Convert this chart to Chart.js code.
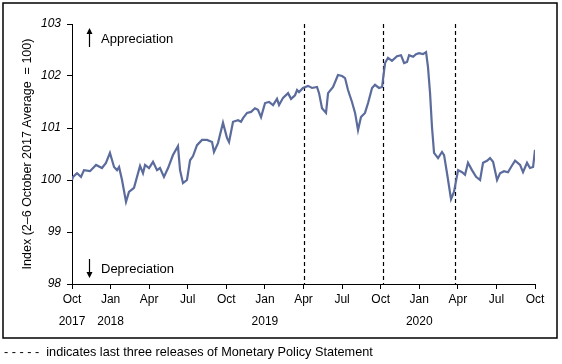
<!DOCTYPE html>
<html>
<head>
<meta charset="utf-8">
<script src="https://cdn.jsdelivr.net/npm/chart.js@4/dist/chart.umd.min.js"></script>
<style>
  body { margin: 0; background: #fff; }
  canvas { display: block; }
</style>
</head>
<body>
<canvas id="twi_chart" width="562" height="364"></canvas>
<script>
// months since early October 2017 (weekly observations)
var months = [0, 0.08, 0.39, 0.70, 0.93, 1.40, 1.87, 2.33, 2.64, 2.95,
  3.27, 3.50, 3.66, 3.89, 4.20, 4.43, 4.82, 5.29, 5.52, 5.68,
  5.99, 6.30, 6.61, 6.84, 7.15, 7.47, 7.85, 8.24, 8.40, 8.63,
  8.94, 9.18, 9.41, 9.72, 10.11, 10.50, 10.89, 11.04, 11.35, 11.74,
  12.05, 12.21, 12.52, 12.91, 13.14, 13.30, 13.61, 13.92, 14.23, 14.46,
  14.70, 15.01, 15.32, 15.63, 15.94, 16.10, 16.41, 16.80, 17.03, 17.34,
  17.50, 17.65, 17.96, 18.35, 18.66, 19.05, 19.21, 19.44, 19.75, 19.91,
  20.30, 20.68, 21.00, 21.23, 21.46, 21.77, 22.01, 22.24, 22.47, 22.78,
  23.02, 23.33, 23.56, 23.87, 24.11, 24.34, 24.57, 24.88, 25.27, 25.58,
  25.82, 26.05, 26.21, 26.52, 26.75, 26.98, 27.29, 27.53, 27.68, 27.84,
  27.99, 28.15, 28.46, 28.77, 28.93, 29.16, 29.47, 29.70, 30.02, 30.33,
  30.56, 30.79, 31.10, 31.42, 31.73, 31.96, 32.27, 32.50, 32.74, 33.05,
  33.28, 33.59, 33.90, 34.14, 34.45, 34.84, 35.07, 35.38, 35.61, 35.85,
  36.00];

var index = [100.00, 100.06, 100.13, 100.06, 100.19, 100.17, 100.29, 100.23, 100.33, 100.52,
  100.25, 100.19, 100.25, 100.00, 99.58, 99.77, 99.85, 100.27, 100.13, 100.29,
  100.23, 100.35, 100.19, 100.23, 100.06, 100.23, 100.48, 100.65, 100.19, 99.94,
  100.00, 100.38, 100.46, 100.67, 100.77, 100.77, 100.73, 100.54, 100.71, 101.10,
  100.81, 100.73, 101.12, 101.15, 101.12, 101.19, 101.29, 101.31, 101.38, 101.35,
  101.21, 101.48, 101.50, 101.44, 101.56, 101.44, 101.58, 101.67, 101.56, 101.63,
  101.73, 101.69, 101.77, 101.81, 101.77, 101.79, 101.67, 101.38, 101.29, 101.67,
  101.79, 102.02, 102.00, 101.96, 101.73, 101.50, 101.29, 100.96, 101.21, 101.29,
  101.48, 101.77, 101.83, 101.77, 101.79, 102.25, 102.35, 102.29, 102.38, 102.40,
  102.25, 102.27, 102.40, 102.37, 102.42, 102.44, 102.42, 102.46, 102.17, 101.67,
  101.02, 100.52, 100.42, 100.54, 100.48, 100.13, 99.63, 99.77, 100.19, 100.15,
  100.10, 100.33, 100.19, 100.06, 100.00, 100.33, 100.37, 100.42, 100.35, 100.00,
  100.13, 100.17, 100.15, 100.25, 100.37, 100.29, 100.15, 100.33, 100.23, 100.25,
  100.58];

var tickMonths = [0, 3, 6, 9, 12, 15, 18, 21, 24, 27, 30, 33, 36];
var tickLabels = [['Oct', '2017'], ['Jan', '2018'], 'Apr', 'Jul', 'Oct', ['Jan', '2019'],
  'Apr', 'Jul', 'Oct', ['Jan', '2020'], 'Apr', 'Jul', 'Oct'];

// last three Monetary Policy Statement releases
var mpsReleases = [18.04, 24.18, 29.78];

var font = "'Liberation Sans', Arial, sans-serif";

var points = [];
for (var i = 0; i < months.length; i++) points.push({ x: months[i], y: index[i] });

var decor = {
  id: 'decor',
  beforeDraw: function (chart) {
    var c = chart.ctx;
    c.save();
    c.fillStyle = '#fff';
    c.fillRect(0, 0, chart.width, chart.height);
    c.restore();
  },
  beforeDatasetsDraw: function (chart) {
    var c = chart.ctx, a = chart.chartArea, xs = chart.scales.x;
    c.save();
    c.strokeStyle = '#000';
    c.lineWidth = 1.2;
    c.setLineDash([4, 3]);
    mpsReleases.forEach(function (m) {
      var x = Math.round(xs.getPixelForValue(m)) + 0.5;
      c.beginPath();
      c.moveTo(x, a.top);
      c.lineTo(x, a.bottom);
      c.stroke();
    });
    c.restore();
  },
  afterDraw: function (chart) {
    var c = chart.ctx, a = chart.chartArea;
    c.save();
    // frame
    c.strokeStyle = '#000';
    c.lineWidth = 1.5;
    c.strokeRect(3, 3, 554, 335);

    // arrows
    var ax = a.left + 17.5;
    c.lineWidth = 1.2;
    c.beginPath();
    c.moveTo(ax, a.top + 23); c.lineTo(ax, a.top + 6);
    c.moveTo(ax, a.bottom - 25); c.lineTo(ax, a.bottom - 8);
    c.stroke();
    c.fillStyle = '#000';
    c.beginPath();
    c.moveTo(ax, a.top + 4); c.lineTo(ax - 3, a.top + 10); c.lineTo(ax + 3, a.top + 10); c.closePath();
    c.moveTo(ax, a.bottom - 6); c.lineTo(ax - 3, a.bottom - 12); c.lineTo(ax + 3, a.bottom - 12); c.closePath();
    c.fill();

    c.font = '13px ' + font;
    c.textBaseline = 'middle';
    c.textAlign = 'left';
    c.fillText('Appreciation', a.left + 29, a.top + 15);
    c.fillText('Depreciation', a.left + 29, a.bottom - 15);

    c.font = '12.7px ' + font;
    c.fillText('- - - - -  indicates last three releases of Monetary Policy Statement', 4, 352);
    c.restore();
  }
};

var ctx = document.getElementById('twi_chart').getContext('2d');
var chartInstance = new Chart(ctx, {
  type: 'line',
  data: {
    datasets: [{
      data: points,
      borderColor: '#5a6b9c',
      borderWidth: 2.2,
      pointRadius: 0,
      tension: 0,
      fill: false
    }]
  },
  options: {
    responsive: false,
    animation: false,
    devicePixelRatio: 1,
    layout: { padding: { top: 24, right: 27, left: 0, bottom: 0 } },
    plugins: { legend: { display: false }, tooltip: { enabled: false } },
    scales: {
      x: {
        type: 'linear',
        min: 0,
        max: 36,
        afterBuildTicks: function (scale) {
          scale.ticks = tickMonths.map(function (m) { return { value: m }; });
        },
        afterFit: function (scale) { scale.height = 80; },
        grid: { drawOnChartArea: false, drawTicks: true, tickLength: 5, color: '#000' },
        border: { display: true, color: '#000', width: 1 },
        ticks: {
          autoSkip: false,
          maxRotation: 0,
          padding: 0,
          color: '#000',
          font: { family: font, size: 12, lineHeight: 1.8 },
          callback: function (value, i) { return tickLabels[i]; }
        }
      },
      y: {
        min: 98,
        max: 103,
        afterFit: function (scale) { scale.width = 72; },
        grid: { drawOnChartArea: false, drawTicks: true, tickLength: 5, color: '#000' },
        border: { display: true, color: '#000', width: 1 },
        ticks: {
          stepSize: 1,
          padding: 6,
          color: '#000',
          font: { family: font, size: 12, style: 'italic' }
        },
        title: {
          display: true,
          text: 'Index (2–6 October 2017 Average  = 100)',
          color: '#000',
          padding: { top: 20, bottom: 0 },
          font: { family: font, size: 12.5 }
        }
      }
    }
  },
  plugins: [decor]
});
</script>
</body>
</html>
